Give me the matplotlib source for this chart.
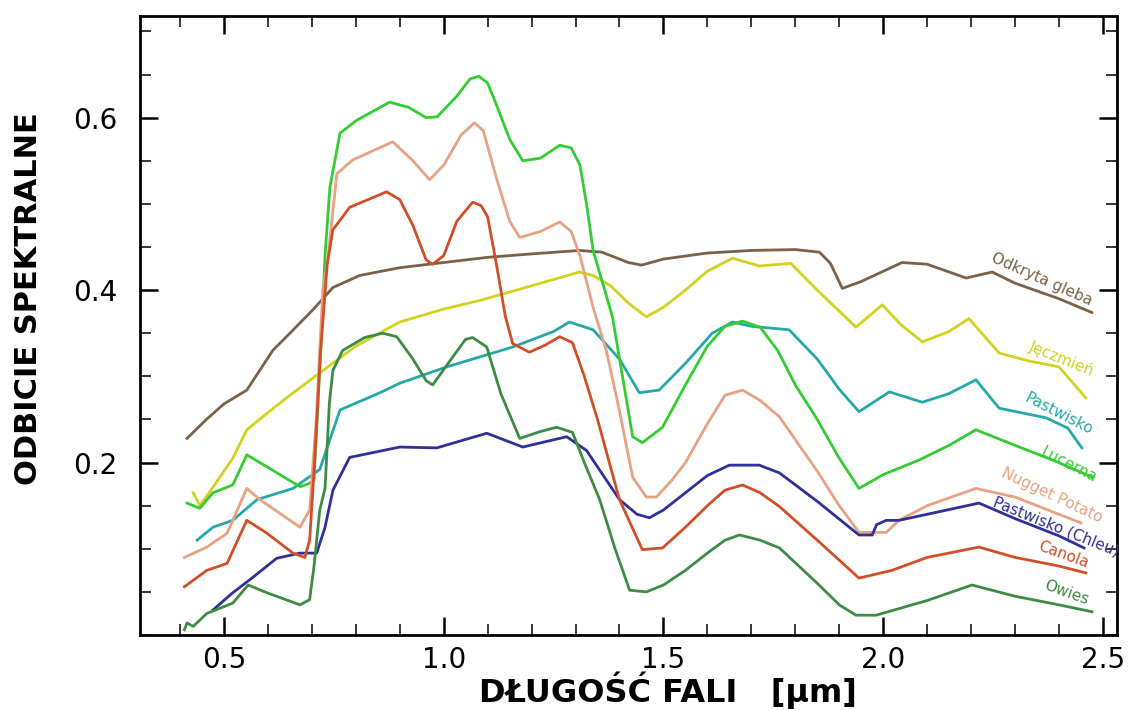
"""Spectral reflectance curves of soil and crops (odbicie spektralne)."""

import matplotlib

matplotlib.use("Agg")
import matplotlib.pyplot as plt
from matplotlib.ticker import MultipleLocator, FixedLocator

# --- data (wavelength in um, reflectance 0..1) ---
gleba_wl = [0.416, 0.46, 0.50, 0.552, 0.611, 0.65, 0.702, 0.748, 0.809, 0.9, 1.0,
            1.1, 1.2, 1.309, 1.36, 1.42, 1.45, 1.5, 1.6, 1.7, 1.8, 1.855, 1.88,
            1.907, 1.95, 2.043, 2.1, 2.189, 2.248, 2.3, 2.4, 2.475]
gleba_r = [0.228, 0.250, 0.268, 0.284, 0.330, 0.350, 0.377, 0.403, 0.417, 0.426,
           0.432, 0.438, 0.442, 0.446, 0.444, 0.432, 0.429, 0.436, 0.443, 0.446,
           0.447, 0.444, 0.431, 0.402, 0.410, 0.432, 0.430, 0.414, 0.421, 0.408,
           0.390, 0.374]

jeczmien_wl = [0.43, 0.445, 0.48, 0.52, 0.552, 0.6, 0.65, 0.718, 0.8, 0.9, 1.0,
               1.082, 1.2, 1.309, 1.34, 1.38, 1.42, 1.461, 1.5, 1.55, 1.6, 1.657,
               1.718, 1.79, 1.85, 1.938, 1.998, 2.04, 2.089, 2.15, 2.195, 2.264,
               2.33, 2.4, 2.461]
jeczmien_r = [0.165, 0.150, 0.175, 0.205, 0.238, 0.258, 0.278, 0.304, 0.335,
              0.363, 0.378, 0.388, 0.405, 0.421, 0.417, 0.405, 0.385, 0.369,
              0.380, 0.400, 0.422, 0.437, 0.428, 0.431, 0.400, 0.357, 0.383,
              0.360, 0.340, 0.352, 0.367, 0.327, 0.318, 0.311, 0.275]

pastwisko_wl = [0.439, 0.475, 0.52, 0.575, 0.657, 0.718, 0.74, 0.764, 0.855, 0.9,
                1.007, 1.157, 1.25, 1.286, 1.34, 1.40, 1.445, 1.49, 1.55, 1.611,
                1.657, 1.7, 1.786, 1.85, 1.9, 1.945, 2.014, 2.089, 2.15, 2.211,
                2.264, 2.37, 2.42, 2.452]
pastwisko_r = [0.110, 0.125, 0.133, 0.157, 0.170, 0.192, 0.225, 0.261, 0.281,
               0.292, 0.311, 0.334, 0.352, 0.363, 0.354, 0.320, 0.281, 0.284,
               0.315, 0.350, 0.363, 0.358, 0.354, 0.320, 0.285, 0.259, 0.282,
               0.270, 0.280, 0.296, 0.263, 0.252, 0.240, 0.217]

lucerna_wl = [0.416, 0.445, 0.475, 0.52, 0.552, 0.598, 0.673, 0.695, 0.705, 0.72,
              0.73, 0.741, 0.764, 0.802, 0.877, 0.92, 0.96, 0.985, 1.03, 1.06,
              1.08, 1.1, 1.12, 1.15, 1.18, 1.22, 1.264, 1.29, 1.31, 1.325, 1.34,
              1.384, 1.43, 1.452, 1.498, 1.55, 1.6, 1.64, 1.68, 1.72, 1.76, 1.8,
              1.85, 1.9, 1.945, 2.0, 2.082, 2.15, 2.211, 2.3, 2.4, 2.475]
lucerna_r = [0.153, 0.147, 0.165, 0.174, 0.209, 0.195, 0.172, 0.176, 0.180,
             0.330, 0.440, 0.519, 0.582, 0.597, 0.618, 0.612, 0.600, 0.601,
             0.625, 0.645, 0.648, 0.640, 0.615, 0.575, 0.550, 0.553, 0.568,
             0.565, 0.545, 0.500, 0.446, 0.369, 0.230, 0.223, 0.241, 0.290,
             0.335, 0.358, 0.364, 0.357, 0.330, 0.290, 0.250, 0.205, 0.170,
             0.186, 0.203, 0.220, 0.238, 0.220, 0.200, 0.183]

nugget_wl = [0.41, 0.461, 0.507, 0.552, 0.582, 0.673, 0.695, 0.71, 0.725, 0.736,
             0.757, 0.793, 0.884, 0.93, 0.968, 1.0, 1.04, 1.07, 1.09, 1.12, 1.15,
             1.173, 1.22, 1.264, 1.29, 1.31, 1.34, 1.37, 1.40, 1.43, 1.461, 1.484,
             1.52, 1.55, 1.6, 1.64, 1.68, 1.72, 1.764, 1.85, 1.9, 1.945, 2.007,
             2.036, 2.1, 2.211, 2.3, 2.4, 2.45]
nugget_r = [0.090, 0.102, 0.118, 0.170, 0.157, 0.125, 0.145, 0.250, 0.400, 0.435,
            0.535, 0.551, 0.572, 0.550, 0.528, 0.545, 0.580, 0.594, 0.585, 0.530,
            0.480, 0.461, 0.468, 0.479, 0.468, 0.440, 0.380, 0.330, 0.260, 0.183,
            0.160, 0.160, 0.180, 0.200, 0.245, 0.278, 0.284, 0.272, 0.253, 0.190,
            0.150, 0.119, 0.119, 0.133, 0.150, 0.170, 0.160, 0.140, 0.130]

chleu_wl = [0.475, 0.52, 0.566, 0.62, 0.673, 0.711, 0.73, 0.748, 0.786, 0.9, 0.984,
            1.098, 1.18, 1.28, 1.325, 1.4, 1.44, 1.468, 1.5, 1.55, 1.6, 1.65,
            1.718, 1.764, 1.85, 1.945, 1.975, 1.985, 2.007, 2.036, 2.1, 2.218,
            2.3, 2.4, 2.457]
chleu_r = [0.029, 0.049, 0.067, 0.089, 0.095, 0.095, 0.125, 0.168, 0.206, 0.218,
           0.217, 0.234, 0.218, 0.230, 0.214, 0.157, 0.140, 0.136, 0.145, 0.165,
           0.185, 0.197, 0.197, 0.188, 0.155, 0.116, 0.116, 0.128, 0.133, 0.133,
           0.140, 0.153, 0.135, 0.115, 0.101]

canola_wl = [0.41, 0.461, 0.507, 0.552, 0.598, 0.657, 0.684, 0.695, 0.705, 0.72,
             0.735, 0.748, 0.786, 0.87, 0.9, 0.93, 0.96, 0.975, 1.0, 1.03, 1.066,
             1.085, 1.1, 1.12, 1.14, 1.157, 1.195, 1.23, 1.264, 1.293, 1.32, 1.35,
             1.4, 1.452, 1.498, 1.55, 1.6, 1.64, 1.68, 1.72, 1.764, 1.85, 1.945,
             2.02, 2.1, 2.218, 2.3, 2.4, 2.461]
canola_r = [0.056, 0.075, 0.083, 0.133, 0.118, 0.095, 0.090, 0.110, 0.190, 0.330,
            0.430, 0.470, 0.496, 0.514, 0.505, 0.475, 0.435, 0.430, 0.440, 0.480,
            0.502, 0.498, 0.485, 0.430, 0.370, 0.338, 0.328, 0.336, 0.346, 0.339,
            0.300, 0.250, 0.157, 0.099, 0.101, 0.125, 0.150, 0.168, 0.174, 0.165,
            0.149, 0.110, 0.066, 0.075, 0.090, 0.102, 0.090, 0.080, 0.072]

owies_wl = [0.41, 0.416, 0.43, 0.461, 0.52, 0.555, 0.598, 0.673, 0.695, 0.705,
            0.718, 0.73, 0.74, 0.748, 0.77, 0.82, 0.861, 0.893, 0.93, 0.96, 0.975,
            1.01, 1.05, 1.066, 1.098, 1.13, 1.173, 1.22, 1.257, 1.293, 1.32, 1.355,
            1.39, 1.423, 1.461, 1.5, 1.55, 1.6, 1.64, 1.673, 1.72, 1.764, 1.85,
            1.9, 1.938, 1.984, 2.1, 2.202, 2.3, 2.4, 2.475]
owies_r = [0.006, 0.014, 0.010, 0.025, 0.037, 0.058, 0.049, 0.035, 0.041, 0.080,
           0.145, 0.170, 0.270, 0.307, 0.330, 0.345, 0.350, 0.346, 0.320, 0.295,
           0.290, 0.315, 0.343, 0.345, 0.334, 0.280, 0.228, 0.236, 0.241, 0.235,
           0.200, 0.157, 0.100, 0.052, 0.050, 0.058, 0.075, 0.095, 0.110, 0.116,
           0.110, 0.101, 0.060, 0.035, 0.023, 0.023, 0.040, 0.058, 0.045, 0.035,
           0.027]

names = ["Odkryta gleba", "Jęczmień", "Pastwisko", "Lucerna", "Nugget Potato",
         "Pastwisko (Chleu)", "Canola", "Owies"]

# label anchor (wavelength, reflectance) and rotation
label_x = [2.361, 2.407, 2.400, 2.423, 2.384, 2.393, 2.411, 2.418]
label_y = [0.412, 0.321, 0.257, 0.197, 0.162, 0.125, 0.093, 0.049]
label_rot = [-24, -22, -27, -27, -25, -22, -20, -20]


def main() -> None:
    series = [
        (gleba_wl, gleba_r, "#7b6148"),
        (jeczmien_wl, jeczmien_r, "#d2d21e"),
        (pastwisko_wl, pastwisko_r, "#26a8a8"),
        (lucerna_wl, lucerna_r, "#33cc33"),
        (nugget_wl, nugget_r, "#e6a282"),
        (chleu_wl, chleu_r, "#30309a"),
        (canola_wl, canola_r, "#d04e28"),
        (owies_wl, owies_r, "#3d8b45"),
    ]

    fig = plt.figure(figsize=(11.42, 7.10), dpi=100)
    ax = fig.add_axes([0.1226, 0.1056, 0.8555, 0.872])

    for (wl, r, color), name, lx, ly, rot in zip(series, names, label_x, label_y, label_rot):
        ax.plot(wl, r, color=color, lw=2.0, solid_joinstyle="round")
        ax.text(lx, ly, name, color=color, fontsize=11, rotation=rot,
                ha="center", va="center", rotation_mode="anchor")

    ax.set_xlim(0.309, 2.532)
    ax.set_ylim(0.0, 0.718)

    ax.xaxis.set_major_locator(FixedLocator([0.5, 1.0, 1.5, 2.0, 2.5]))
    ax.xaxis.set_minor_locator(MultipleLocator(0.1))
    ax.yaxis.set_major_locator(FixedLocator([0.2, 0.4, 0.6]))
    ax.yaxis.set_minor_locator(MultipleLocator(0.05))
    ax.set_xticklabels(["0.5", "1.0", "1.5", "2.0", "2.5"])
    ax.set_yticklabels(["0.2", "0.4", "0.6"])

    ax.tick_params(which="both", direction="in", top=True, right=True, color="black")
    ax.tick_params(which="major", length=13, width=1.8, labelsize=20)
    ax.tick_params(which="minor", length=8, width=1.1)
    ax.tick_params(axis="y", which="major", pad=16)
    ax.tick_params(axis="x", which="major", pad=8)
    for sp in ax.spines.values():
        sp.set_linewidth(2.0)

    ax.set_xlabel("DŁUGOŚĆ FALI   [µm]", fontsize=23, fontweight="bold",
                  va="center", ha="center")
    ax.xaxis.set_label_coords(0.54, -0.089)
    ax.set_ylabel("ODBICIE SPEKTRALNE", fontsize=22, fontweight="bold",
                  va="center", ha="center")
    ax.yaxis.set_label_coords(-0.114, 0.544)

    fig.savefig("out.png", dpi=100)
    plt.close(fig)


if __name__ == "__main__":
    main()
